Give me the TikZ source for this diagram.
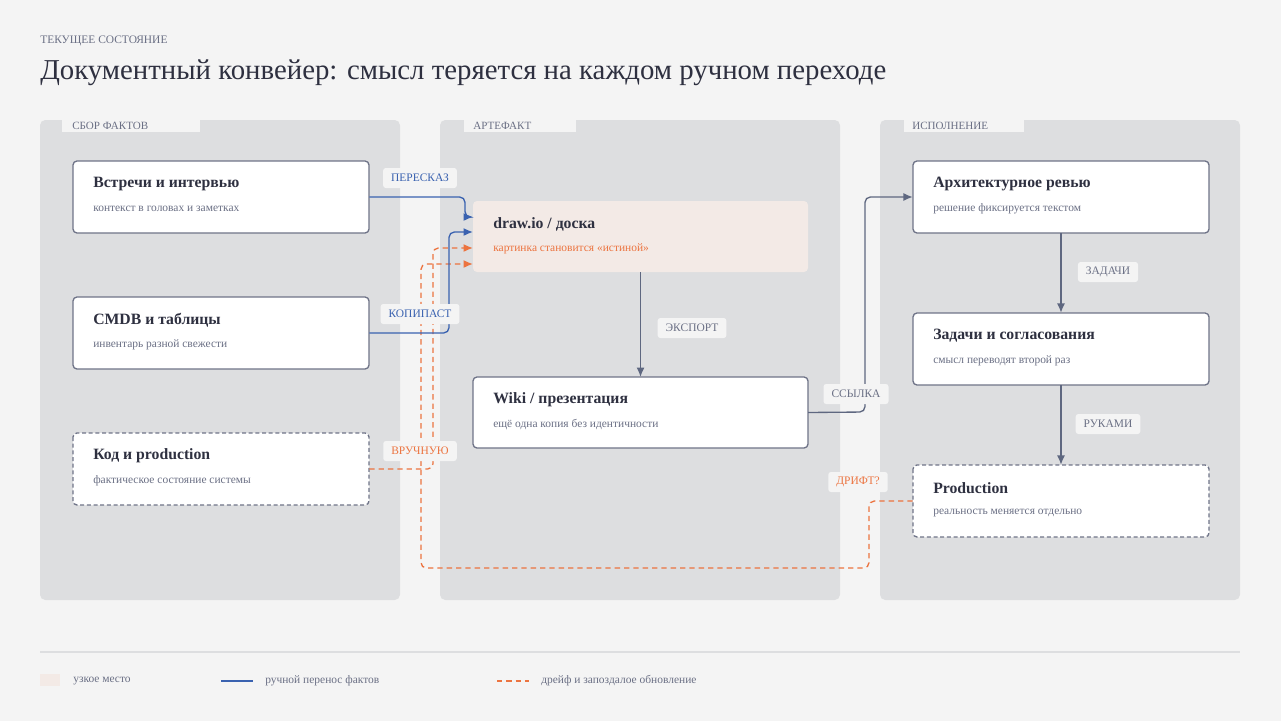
\documentclass[tikz,border=0pt]{standalone}
\usepackage{fontspec}
\setmainfont{Liberation Serif}
\usetikzlibrary{arrows.meta}
\definecolor{bg}{HTML}{F4F4F4}
\definecolor{panel}{HTML}{DDDEE0}
\definecolor{ink}{HTML}{2E3040}
\definecolor{sub}{HTML}{6B7085}
\definecolor{blu}{HTML}{3A62B0}
\definecolor{ora}{HTML}{EC7440}
\definecolor{con}{HTML}{5E6780}
\definecolor{bord}{HTML}{6F7488}
\definecolor{hot}{HTML}{F3EAE6}
\begin{document}
\begin{tikzpicture}[x=0.75pt,y=-0.75pt,
  box/.style={draw=bord,line width=1pt,fill=white,rounded corners=3pt},
  dbox/.style={box,dash pattern=on 3pt off 2pt},
  ttl/.style={anchor=west,inner sep=0pt,font=\fontsize{11.8}{13}\selectfont\bfseries,text=ink},
  st/.style={anchor=west,inner sep=0pt,font=\fontsize{8.6}{10}\selectfont,text=sub},
  lab/.style={fill=bg,rounded corners=2pt,font=\fontsize{8.6}{10}\selectfont,inner xsep=6pt,minimum height=15pt},
  tab/.style={anchor=west,inner sep=0pt,font=\fontsize{8.3}{9}\selectfont,text=sub},
  tip/.style={-{Latex[length=7pt,width=6pt]}},
  bl/.style={draw=blu,line width=1pt,rounded corners=4pt,tip},
  or/.style={draw=ora,line width=1pt,rounded corners=4pt,dash pattern=on 4pt off 3pt,tip},
  gr/.style={draw=con,line width=1pt,rounded corners=4pt,tip}]
\fill[bg] (0,0) rectangle (1281,721);
\useasboundingbox (0,0) rectangle (1281,721);
\node[anchor=west,inner sep=0pt,font=\fontsize{8.6}{10}\selectfont,text=sub] (hdr) at (40,41) {ТЕКУЩЕЕ СОСТОЯНИЕ};
\node[anchor=west,inner sep=0pt,font=\fontsize{21.6}{24}\selectfont,text=ink] (title) at (40,73) {Документный конвейер: смысл теряется на каждом ручном переходе};
% panels
\fill[panel,rounded corners=4pt] (40,120) rectangle (400,600);
\fill[panel,rounded corners=4pt] (440,120) rectangle (840,600);
\fill[panel,rounded corners=4pt] (880,120) rectangle (1240,600);
\fill[bg] (62,120) rectangle (200,132);
\fill[bg] (464,120) rectangle (576,132);
\fill[bg] (904,120) rectangle (1024,132);
\node[tab] (t1) at (72,126) {СБОР ФАКТОВ};
\node[tab] (t2) at (473,126) {АРТЕФАКТ};
\node[tab] (t3) at (912,126) {ИСПОЛНЕНИЕ};
% nodes
\draw[box] (73,161) rectangle (369,233);
\node[minimum width=222pt,minimum height=54pt,inner sep=0] (a) at (221,197) {};
\node[ttl] at (93,184) {Встречи и интервью};
\node[st] at (93,209) {контекст в головах и заметках};
\draw[box] (73,297) rectangle (369,369);
\node[minimum width=222pt,minimum height=54pt,inner sep=0] (b) at (221,333) {};
\node[ttl] at (93,320) {CMDB и таблицы};
\node[st] at (93,345) {инвентарь разной свежести};
\draw[dbox] (73,433) rectangle (369,505);
\node[minimum width=222pt,minimum height=54pt,inner sep=0] (c) at (221,469) {};
\node[ttl] at (93,456) {Код и production};
\node[st] at (93,481) {фактическое состояние системы};
\fill[hot,rounded corners=3pt] (473,201) rectangle (808,272);
\node[minimum width=251pt,minimum height=53pt,inner sep=0] (d) at (640.5,236.5) {};
\node[ttl] at (493,224) {draw.io / доска};
\node[st,text=ora] at (493,249) {картинка становится «истиной»};
\draw[box] (473,377) rectangle (808,448);
\node[minimum width=251pt,minimum height=53pt,inner sep=0] (e) at (640.5,412.5) {};
\node[ttl] at (493,400) {Wiki / презентация};
\node[st] at (493,425) {ещё одна копия без идентичности};
\draw[box] (913,161) rectangle (1209,233);
\node[minimum width=222pt,minimum height=54pt,inner sep=0] (f) at (1061,197) {};
\node[ttl] at (933,184) {Архитектурное ревью};
\node[st] at (933,209) {решение фиксируется текстом};
\draw[box] (913,313) rectangle (1209,385);
\node[minimum width=222pt,minimum height=54pt,inner sep=0] (g) at (1061,349) {};
\node[ttl] at (933,336) {Задачи и согласования};
\node[st] at (933,361) {смысл переводят второй раз};
\draw[dbox] (913,465) rectangle (1209,537);
\node[minimum width=222pt,minimum height=54pt,inner sep=0] (h) at (1061,501) {};
\node[ttl] at (933,488) {Production};
\node[st] at (933,513) {реальность меняется отдельно};
% connectors
\draw[or] (c.east) -- (433,469) -- (433,248) -- (d.west |- 0,248);
\draw[or] (h.west) -- (869,501) -- (869,568) -- (421,568) -- (421,264) -- (d.west |- 0,264);
\draw[bl] (a.east) -- (465,197) -- (465,217) -- (d.west |- 0,217);
\draw[bl] (b.east) -- (449,333) -- (449,232) -- (d.west |- 0,232);
\draw[gr] (d.south) -- (e.north);
\draw[gr] (e.east) -- (865,412) -- (865,197) -- (f.west);
\draw[gr] (f.south) -- (g.north);
\draw[gr] (g.south) -- (h.north);
% labels
\node[lab,text=blu] (l1) at (420,178) {ПЕРЕСКАЗ};
\node[lab,text=blu] (l2) at (420,314) {КОПИПАСТ};
\node[lab,text=ora] (l3) at (420,451) {ВРУЧНУЮ};
\node[lab,text=sub] (l4) at (692,328) {ЭКСПОРТ};
\node[lab,text=sub] (l5) at (856,394) {ССЫЛКА};
\node[lab,text=sub] (l6) at (1108,272) {ЗАДАЧИ};
\node[lab,text=sub] (l7) at (1108,424) {РУКАМИ};
\node[lab,text=ora] (l8) at (858,482) {ДРИФТ?};
% legend
\draw[panel,line width=0.8pt] (40,652) -- (1240,652);
\fill[hot] (40,674) rectangle (60,686);
\node[st] (g1) at (73,681) {узкое место};
\coordinate (b1) at (221,681); \coordinate (b2) at (253,681);
\draw[blu,line width=1pt] (b1) -- (b2);
\node[st] (g2) at (265,681) {ручной перенос фактов};
\coordinate (o1) at (497,681); \coordinate (o2) at (529,681);
\draw[ora,line width=1pt,dash pattern=on 4pt off 3pt] (o1) -- (o2);
\node[st] (g3) at (541,681) {дрейф и запоздалое обновление};
\end{tikzpicture}
\end{document}
